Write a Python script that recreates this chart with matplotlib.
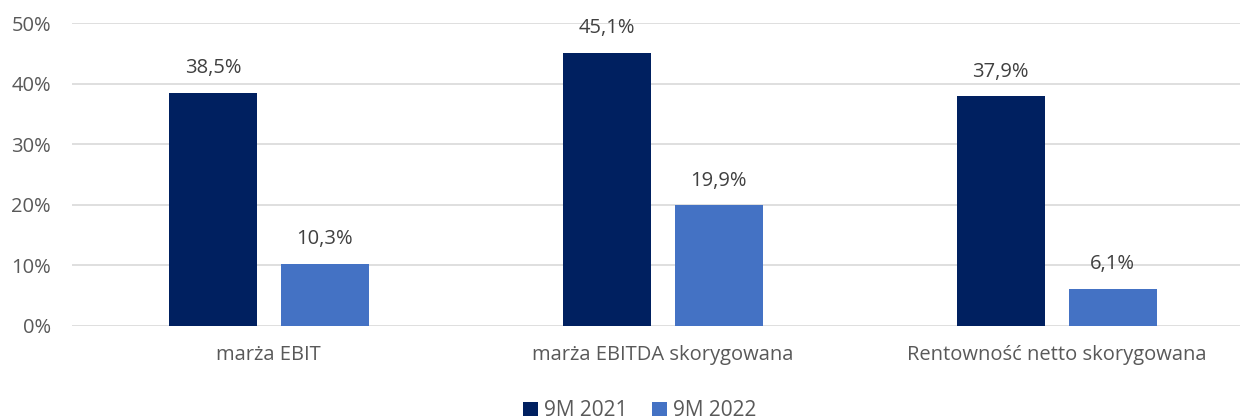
import matplotlib.pyplot as plt
import numpy as np

categories = ["marża EBIT", "marża EBITDA skorygowana", "Rentowność netto skorygowana"]
series_names = ["9M 2021", "9M 2022"]
values_2021 = [38.5, 45.1, 37.9]
values_2022 = [10.3, 19.9, 6.1]
colors = ["#002060", "#4472C4"]
labels_2021 = ["38,5%", "45,1%", "37,9%"]
labels_2022 = ["10,3%", "19,9%", "6,1%"]

plt.rcParams['font.family'] = ['Open Sans', 'DejaVu Sans']
grey = "#595959"

fig = plt.figure(figsize=(12.4, 4.19), dpi=100)
ax = fig.add_axes([0.058, 0.222, 0.953, 0.723])

x = np.arange(len(categories))
w = 0.223
off = (w + 0.061) / 2
b1 = ax.bar(x - off, values_2021, w, color=colors[0], label=series_names[0], zorder=3)
b2 = ax.bar(x + off, values_2022, w, color=colors[1], label=series_names[1], zorder=3)

for bars, labs in ((b1, labels_2021), (b2, labels_2022)):
    for r, t in zip(bars, labs):
        ax.text(r.get_x() + r.get_width() / 2, r.get_height() + 2.4, t,
                ha='center', va='bottom', fontsize=14.5, color="#404040")

ax.set_xlim(-0.5, 2.5)
ax.set_ylim(0, 50)
ax.set_yticks(range(0, 51, 10))
ax.set_yticklabels([f"{v}%" for v in range(0, 51, 10)])
ax.set_xticks(x)
ax.set_xticklabels(categories)
ax.tick_params(axis='both', length=0, labelsize=14.5, colors=grey)
ax.tick_params(axis='x', pad=14)
ax.tick_params(axis='y', pad=15)
ax.grid(axis='y', color="#D9D9D9", linewidth=1.2, zorder=0)
for s in ax.spines.values():
    s.set_visible(False)

fig.legend(loc='lower center', bbox_to_anchor=(0.516, -0.05), ncol=2, frameon=False,
           fontsize=15, labelcolor=grey, handlelength=0.7, handleheight=0.7,
           handletextpad=0.3, columnspacing=1.2)

fig.savefig("out.png", dpi=100)
